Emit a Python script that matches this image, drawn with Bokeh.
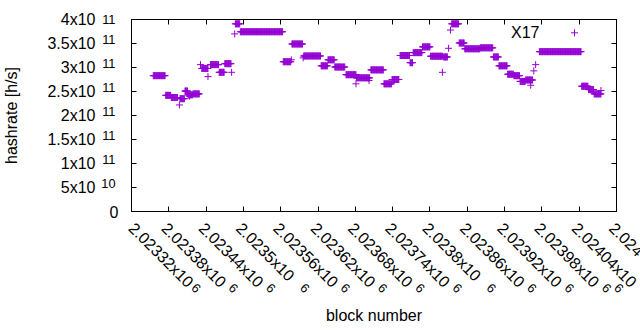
import math
from bokeh.plotting import figure
from bokeh.models import Range1d, FixedTicker, LinearAxis, Label
from bokeh.embed import file_html
from bokeh.resources import INLINE

# ---------------- data ----------------
# runs of consecutive blocks that share one hashrate value
seg_start = [2023355, 2023375, 2023384, 2023398, 2023406, 2023411, 2023419, 2023433,
             2023447, 2023461, 2023470, 2023487, 2023495, 2023564, 2023578, 2023597,
             2023625, 2023636, 2023647, 2023665, 2023682, 2023705, 2023726, 2023739,
             2023752, 2023768, 2023773, 2023788, 2023801, 2023822, 2023835, 2023847,
             2023856, 2023881, 2023902, 2023911, 2023925, 2023935, 2023945, 2023954,
             2023976, 2024044, 2024055, 2024064]
seg_end = [2023374, 2023383, 2023394, 2023405, 2023410, 2023418, 2023429, 2023443,
           2023460, 2023469, 2023480, 2023494, 2023563, 2023576, 2023595, 2023624,
           2023635, 2023646, 2023663, 2023681, 2023703, 2023725, 2023738, 2023750,
           2023767, 2023772, 2023787, 2023800, 2023820, 2023828, 2023846, 2023855,
           2023880, 2023901, 2023910, 2023924, 2023934, 2023944, 2023953, 2023965,
           2024043, 2024054, 2024063, 2024075]
seg_rate = [2.83e11, 2.42e11, 2.375e11, 2.35e11, 2.51e11, 2.43e11, 2.45e11, 2.98e11,
            3.06e11, 2.90e11, 3.08e11, 3.91e11, 3.745e11, 3.12e11, 3.49e11, 3.24e11,
            3.035e11, 3.16e11, 3.01e11, 2.85e11, 2.785e11, 2.95e11, 2.66e11, 2.75e11,
            3.25e11, 3.10e11, 3.31e11, 3.43e11, 3.235e11, 3.22e11, 3.91e11, 3.51e11,
            3.39e11, 3.41e11, 3.22e11, 3.035e11, 2.86e11, 2.83e11, 2.71e11, 2.74e11,
            3.33e11, 2.61e11, 2.54e11, 2.45e11]
# isolated blocks
pt_block = [2023397, 2023413, 2023431, 2023443, 2023481, 2023486, 2023577, 2023596,
            2023681, 2023702, 2023820, 2023830, 2023833, 2023962, 2023967, 2023970,
            2024075]
pt_rate = [2.22e11, 2.40e11, 3.06e11, 2.81e11, 2.90e11, 3.70e11, 3.16e11, 3.20e11,
           2.66e11, 2.73e11, 2.90e11, 3.40e11, 3.78e11, 2.63e11, 2.93e11, 3.06e11,
           2.52e11]

x_ticks = [2023320, 2023380, 2023440, 2023500, 2023560, 2023620, 2023680,
           2023740, 2023800, 2023860, 2023920, 2023980, 2024040, 2024100]
# mantissa shown before "x10"; the last one is cut by the window edge
x_tick_main = ["2.02332x10", "2.02338x10", "2.02344x10", "2.0235x10", "2.02356x10",
               "2.02362x10", "2.02368x10", "2.02374x10", "2.0238x10", "2.02386x10",
               "2.02392x10", "2.02398x10", "2.02404x10", "2.024"]
x_tick_exp = ["6"] * 13 + [""]
y_ticks = [0, 5e10, 1e11, 1.5e11, 2e11, 2.5e11, 3e11, 3.5e11, 4e11]
y_tick_main = ["0", "5x10", "1x10", "1.5x10", "2x10", "2.5x10", "3x10", "3.5x10", "4x10"]
y_tick_exp = ["", "10", "11", "11", "11", "11", "11", "11", "11"]
series_name = "X17"
x_title = "block number"
y_title = "hashrate [h/s]"

# ---------------- build point lists ----------------
bx, by = [], []
for s, e, r in zip(seg_start, seg_end, seg_rate):
    for b in range(s, e + 1):
        bx.append(b)
        by.append(r)
bx += pt_block
by += pt_rate

X0, X1 = x_ticks[0], x_ticks[-1]
Y0, Y1 = y_ticks[0], y_ticks[-1]
FW, FH = 485, 192
KX = (X1 - X0) / FW      # data units per pixel
KY = (Y1 - Y0) / FH
COLOR = "#9400D3"
FONT = "Liberation Sans"
FSZ = 16
SSZ = 12.8
FS = f"{FSZ}px"
SS = f"{SSZ}px"

p = figure(frame_width=FW, frame_height=FH,
           x_range=Range1d(X0, X1), y_range=Range1d(Y0, Y1),
           x_axis_type=None, y_axis_type=None,
           output_backend="svg", toolbar_location=None,
           min_border_left=124, min_border_right=31,
           min_border_top=19, min_border_bottom=119)
p.outline_line_color = "black"
p.outline_line_width = 1
p.outline_line_alpha = 1
p.background_fill_color = "white"
p.border_fill_color = "white"


def mk_axis(ticks, labels=None, size=FS, show_ticks=True):
    ax = LinearAxis(ticker=FixedTicker(ticks=list(ticks), minor_ticks=[]))
    ax.major_tick_in = 5
    ax.major_tick_out = 0
    ax.minor_tick_line_color = None
    ax.major_tick_line_color = "black" if show_ticks else None
    ax.axis_line_color = "black" if show_ticks else None
    if labels is None:
        ax.major_label_text_font_size = "0px"
        ax.major_label_text_color = None
        ax.major_label_standoff = 0
    else:
        ax.major_label_overrides = dict(zip(ticks, labels))
        ax.major_label_text_font = FONT
        ax.major_label_text_font_size = size
        ax.major_label_text_color = "black"
    ax.axis_label_text_font = FONT
    ax.axis_label_text_font_size = FS
    ax.axis_label_text_font_style = "normal"
    ax.axis_label_text_color = "black"
    return ax


AW = {".": 0.278, "x": 0.5}
def text_w(s, size):
    return sum(AW.get(c, 0.556) for c in s) * size

c45 = math.cos(math.pi / 4)

# ---- x axis: ticks, rotated mantissas, rotated exponents ----
p.add_layout(mk_axis(x_ticks), "below")
# nudge labels a little left of their ticks (the first one cannot leave the range)
xm_t = [x_ticks[0]] + [t - 4.5 * KX for t in x_ticks[1:]]
xm = mk_axis(xm_t, x_tick_main, show_ticks=False)
xm.major_label_orientation = -math.pi / 4
xm.major_label_standoff = 14
p.add_layout(xm, "below")

sup_x, sup_lab = [], []
for t, m, e in zip(x_ticks, x_tick_main, x_tick_exp):
    if not e:
        continue
    d = text_w(m, FSZ) + 3
    dx = c45 * (d + 5.5) + 3.1 - 6
    if len(m) < 10:
        dx += 3
    sup_x.append(min(t + dx * KX, X1))
    sup_lab.append(e)
xs = mk_axis(sup_x, sup_lab, size=SS, show_ticks=False)
xs.major_label_orientation = -math.pi / 4
xs.major_label_standoff = -14
xs.axis_label = x_title
xs.axis_label_standoff = 7
p.add_layout(xs, "below")

# ---- y axis: ticks + "0", raised exponents, mantissas ----
y0_lab = [m if not e else "" for m, e in zip(y_tick_main, y_tick_exp)]
yl = mk_axis(y_ticks, y0_lab)
yl.major_label_standoff = 13
p.add_layout(yl, "left")

ys_t = [min(v + 4.44 * KY, Y1) for v, e in zip(y_ticks, y_tick_exp) if e]
ys_l = [e for e in y_tick_exp if e]
ys = mk_axis(ys_t, ys_l, size=SS, show_ticks=False)
ys.major_label_standoff = -9
p.add_layout(ys, "left")

ym_t = [v for v, e in zip(y_ticks, y_tick_exp) if e]
ym_l = [m for m, e in zip(y_tick_main, y_tick_exp) if e]
ym = mk_axis(ym_t, ym_l, show_ticks=False)
ym.major_label_standoff = 3
ym.axis_label = y_title
ym.axis_label_standoff = 24
p.add_layout(ym, "left")

p.add_layout(mk_axis(x_ticks), "above")
p.add_layout(mk_axis(y_ticks), "right")

p.scatter(bx, by, marker="cross", size=7, line_color=COLOR, line_width=1)

# ---- key (gnuplot style: text, then sample) ----
key_x = X1 - 42 * KX
key_y = Y1 - 13.3 * KY
p.add_layout(Label(x=X1, y=Y1, x_offset=-77, y_offset=-13.3, text=series_name,
                   text_align="right", text_baseline="middle", text_font=FONT,
                   text_font_size=FS, text_color="black"))
p.scatter([key_x], [key_y], marker="cross", size=7, line_color=COLOR, line_width=1)

open("out.html", "w").write(file_html(p, INLINE))
